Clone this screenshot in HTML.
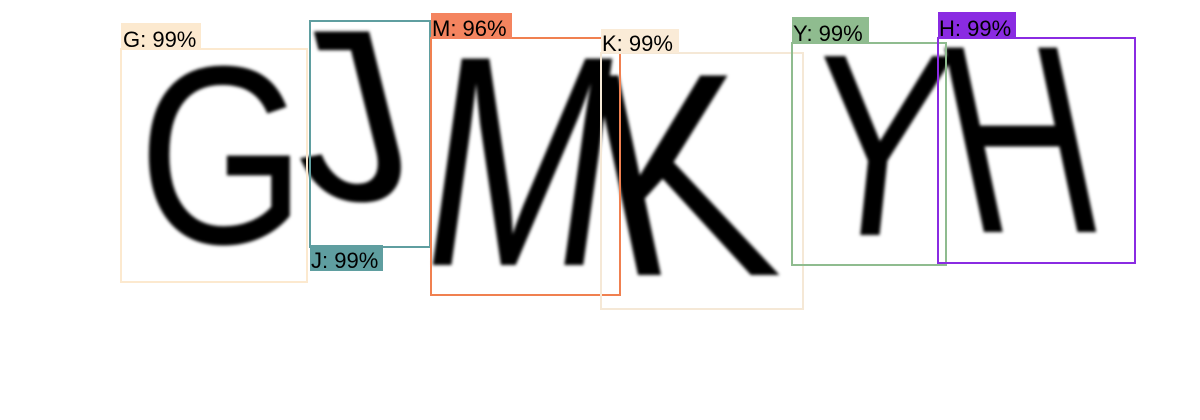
<!DOCTYPE html>
<html><head><meta charset="utf-8"><style>
html,body{margin:0;padding:0;background:#fff;}
svg{display:block;}
.lt{font-family:"Liberation Sans",sans-serif;fill:#000;text-anchor:middle;}
.lb{font-family:"Liberation Sans",sans-serif;font-size:22px;fill:#000;}
</style></head><body>
<svg width="1200" height="420" viewBox="0 0 1200 420">
<defs><filter id="bl"><feGaussianBlur stdDeviation="1.6"/></filter></defs>
<g filter="url(#bl)">
<text class="lt" font-size="254" transform="translate(222,243) scale(0.85,1)">G</text>
<text class="lt" font-size="245" transform="translate(368,200) skewX(14)">J</text>
<text class="lt" font-size="300" transform="translate(508,265) skewX(-8) scale(0.75,1)">M</text>
<text class="lt" font-size="290" transform="translate(700,275) skewX(12) scale(0.85,1)">K</text>
<text class="lt" font-size="260" transform="translate(870,235) skewX(-6) scale(0.8,1)">Y</text>
<text class="lt" font-size="268" transform="translate(1040,232) skewX(12) scale(0.75,1)">H</text>
</g>
<g>
<rect x="121" y="49" width="186" height="233" fill="none" stroke="#fce9cf" stroke-width="2"/>
<rect x="121" y="23" width="80" height="26" fill="#fce9cf"/>
<text class="lb" x="123" y="47">G: 99%</text>
</g>
<g>
<rect x="310" y="21" width="120" height="226" fill="none" stroke="#5f9ea0" stroke-width="2"/>
<rect x="310" y="245" width="73" height="26" fill="#5f9ea0"/>
<text class="lb" x="311" y="268">J: 99%</text>
</g>
<g>
<rect x="431" y="38" width="189" height="257" fill="none" stroke="#f08050" stroke-width="2"/>
<rect x="431" y="13" width="81" height="26" fill="#f4845f"/>
<text class="lb" x="432" y="36">M: 96%</text>
</g>
<g>
<rect x="601" y="53" width="202" height="256" fill="none" stroke="#f5e8d6" stroke-width="2"/>
<rect x="601" y="29" width="78" height="24" fill="#faebd7"/>
<text class="lb" x="602" y="51">K: 99%</text>
</g>
<g>
<rect x="792" y="43" width="154" height="222" fill="none" stroke="#8fbc8f" stroke-width="2"/>
<rect x="792" y="17" width="77" height="26" fill="#8fbc8f"/>
<text class="lb" x="793" y="41">Y: 99%</text>
</g>
<g>
<rect x="938" y="38" width="197" height="225" fill="none" stroke="#8a2be2" stroke-width="2"/>
<rect x="938" y="12" width="78" height="26" fill="#8a2be2"/>
<text class="lb" x="939" y="36">H: 99%</text>
</g>
</svg>
</body></html>
